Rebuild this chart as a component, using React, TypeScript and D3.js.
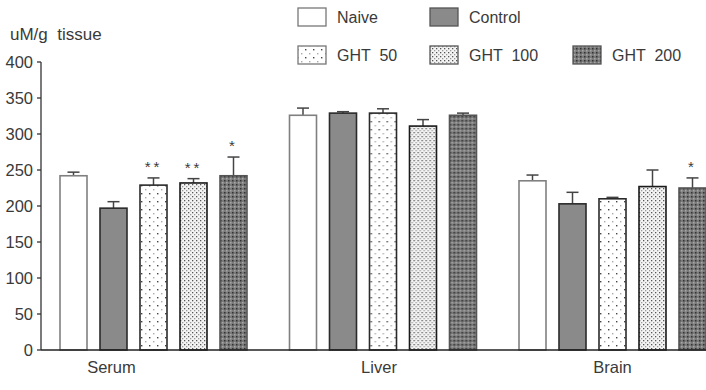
import React from "react";
import * as d3 from "d3";

// Tissue groups and treatment series
const tissues = ["Serum", "Liver", "Brain"];
const treatments = ["Naive", "Control", "GHT 50", "GHT 100", "GHT 200"];

// Mean values (uM/g tissue), one array per tissue, in treatment order
const serumMeans = [242, 197, 229, 232, 242];
const liverMeans = [326, 329, 329, 311, 326];
const brainMeans = [235, 203, 210, 227, 225];

// Upper error (SD) per bar
const serumErr = [5, 9, 10, 6, 26];
const liverErr = [10, 2, 6, 9, 3];
const brainErr = [8, 16, 2, 23, 14];

// Significance marks per bar
const serumSig = ["", "", "**", "**", "*"];
const liverSig = ["", "", "", "", ""];
const brainSig = ["", "", "", "", "*"];

const yTicks = [0, 50, 100, 150, 200, 250, 300, 350, 400];

const W = 706;
const H = 390;
const FONT = "'Liberation Sans', Arial, sans-serif";
const TEXT = "#3a3a3a";

const means = [serumMeans, liverMeans, brainMeans];
const errs = [serumErr, liverErr, brainErr];
const sigs = [serumSig, liverSig, brainSig];

// Horizontal shift applied to each category label
const labelShift: Record<string, number> = { Serum: -42, Liver: -4, Brain: 0 };

export default function App() {
  const axisX = 41;
  const y = d3.scaleLinear().domain([0, 400]).range([350, 62]);
  const groupX = d3
    .scaleBand<string>()
    .domain(tissues)
    .range([60, 60 + 229.5 * 3])
    .paddingInner(0)
    .paddingOuter(0);
  const barX = d3
    .scaleBand<string>()
    .domain(treatments)
    .range([0, 187])
    .paddingInner(0.325)
    .paddingOuter(0)
    .align(0);
  const bw = barX.bandwidth();

  const fills: Record<string, string> = {
    Naive: "#ffffff",
    Control: "#8a8a8a",
    "GHT 50": "url(#pSparse)",
    "GHT 100": "url(#pDense)",
    "GHT 200": "url(#pDark)",
  };
  const strokes: Record<string, string> = {
    Naive: "#808080",
    Control: "#2a2a2a",
    "GHT 50": "#2a2a2a",
    "GHT 100": "#1a1a1a",
    "GHT 200": "#555555",
  };

  const legendItems = [
    { name: "Naive", x: 298, y: 8 },
    { name: "Control", x: 430, y: 8 },
    { name: "GHT 50", x: 298, y: 46 },
    { name: "GHT 100", x: 430, y: 46 },
    { name: "GHT 200", x: 573, y: 46 },
  ];

  return (
    <svg
      width={W}
      height={H}
      style={{ position: "absolute", left: 0, top: 0, background: "#fff" }}
      fontFamily={FONT}
    >
      <defs>
        <pattern id="pSparse" width="8" height="8" patternUnits="userSpaceOnUse">
          <rect width="8" height="8" fill="#fff" />
          <rect x="1" y="1" width="1.4" height="1.4" fill="#444" />
          <rect x="5" y="5" width="1.4" height="1.4" fill="#aaa" />
        </pattern>
        <pattern id="pDense" width="4" height="4" patternUnits="userSpaceOnUse">
          <rect width="4" height="4" fill="#f4f4f4" />
          <rect x="0" y="0" width="1.3" height="1.3" fill="#555" />
          <rect x="2" y="2" width="1.3" height="1.3" fill="#999" />
        </pattern>
        <pattern id="pDark" width="4" height="4" patternUnits="userSpaceOnUse">
          <rect width="4" height="4" fill="#7a7a7a" />
          <rect x="0" y="0" width="1.5" height="1.5" fill="#333" />
          <rect x="2" y="2" width="1.5" height="1.5" fill="#a8a8a8" />
        </pattern>
      </defs>

      {/* y-axis title */}
      <text x={10} y={40} fontSize={17} fill={TEXT} xmlSpace="preserve">
        uM/g  tissue
      </text>

      {/* y axis */}
      <line x1={axisX} x2={axisX} y1={y(400)} y2={y(0)} stroke="#333" strokeWidth={1.3} />
      {yTicks.map((t) => (
        <g key={t}>
          <line x1={axisX - 4} x2={axisX} y1={y(t)} y2={y(t)} stroke="#333" strokeWidth={1.3} />
          <text
            x={axisX - 8}
            y={y(t)}
            dy="0.35em"
            textAnchor="end"
            fontSize={16.5}
            fill={TEXT}
          >
            {t}
          </text>
        </g>
      ))}

      {/* bars */}
      {tissues.map((tissue, gi) => (
        <g key={tissue} transform={`translate(${groupX(tissue)},0)`}>
          {treatments.map((tr, i) => {
            const v = means[gi][i];
            const e = errs[gi][i];
            const x0 = barX(tr)!;
            const cx = x0 + bw / 2;
            return (
              <g key={tr}>
                <line x1={cx} x2={cx} y1={y(v)} y2={y(v + e)} stroke="#444" strokeWidth={1.5} />
                <line x1={cx - 6} x2={cx + 6} y1={y(v + e)} y2={y(v + e)} stroke="#444" strokeWidth={1.5} />
                <rect
                  x={x0}
                  y={y(v)}
                  width={bw}
                  height={y(0) - y(v)}
                  fill={fills[tr]}
                  stroke={strokes[tr]}
                  strokeWidth={1.6}
                />
                {sigs[gi][i] && (
                  <text
                    x={cx}
                    y={y(v + e) - 6}
                    textAnchor="middle"
                    fontSize={15}
                    fill={TEXT}
                    letterSpacing={3}
                  >
                    {sigs[gi][i]}
                  </text>
                )}
              </g>
            );
          })}
          <text
            x={barX.range()[1] / 2 + labelShift[tissue]}
            y={373}
            textAnchor="middle"
            fontSize={16.5}
            fill={TEXT}
          >
            {tissue}
          </text>
        </g>
      ))}

      {/* x axis */}
      <line x1={axisX} x2={W} y1={y(0)} y2={y(0)} stroke="#222" strokeWidth={1.5} />

      {/* legend */}
      {legendItems.map((d) => (
        <g key={d.name}>
          <rect
            x={d.x}
            y={d.y}
            width={28}
            height={18}
            fill={fills[d.name]}
            stroke={d.name === "Naive" || d.name === "GHT 50" ? "#777" : "#555"}
            strokeWidth={1.3}
          />
          <text x={d.x + 39} y={d.y + 9} dy="0.35em" fontSize={16} fill={TEXT} xmlSpace="preserve">
            {d.name.replace(" ", "  ")}
          </text>
        </g>
      ))}
    </svg>
  );
}
